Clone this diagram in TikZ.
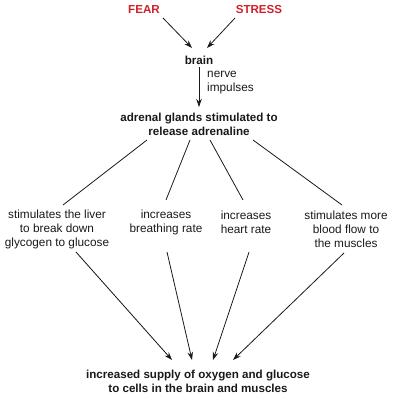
\documentclass[tikz,border=0pt]{standalone}
\usepackage{fontspec}
\setmainfont{Liberation Sans}
\usetikzlibrary{arrows.meta}
\definecolor{fearred}{RGB}{208,32,44}
\definecolor{ink}{RGB}{25,25,25}
\begin{document}
\begin{tikzpicture}[x=1pt,y=-1pt,
  txt/.style={inner sep=0pt,align=center,text=ink,font=\fontsize{11.8}{14}\selectfont},
  btxt/.style={txt,font=\fontsize{11.6}{14}\selectfont\bfseries},
  redtxt/.style={btxt,text=fearred},
  arr/.style={line width=0.8pt,draw=ink,-{Stealth[length=8pt,width=5.5pt]}},
  ln/.style={line width=0.8pt,draw=ink}]
\useasboundingbox (0,0) rectangle (393,395);
\node[redtxt] (fear) at (144,10) {FEAR};
\node[redtxt] (stress) at (259,10) {STRESS};
\node[btxt] (brain) at (199,60) {brain};
\node[txt,anchor=west,align=left] (nerve) at (207,83) {nerve\\impulses};
\node[btxt] (adr) at (199,124) {adrenal glands stimulated to\\release adrenaline};
\node[txt] (liver) at (57,229) {stimulates the liver\\to break down\\glycogen to glucose};
\node[txt] (breath) at (166,222) {increases\\breathing rate};
\node[txt] (heart) at (246,222) {increases\\heart rate};
\node[txt] (blood) at (346,229) {stimulates more\\blood flow to\\the muscles};
\node[btxt] (out) at (198,381) {increased supply of oxygen and glucose\\to cells in the brain and muscles};
\draw[arr] ([shift={(19,8)}]fear.center) -- ([shift={(-7,-12)}]brain.center);
\draw[arr] ([shift={(-24,8)}]stress.center) -- ([shift={(8,-12)}]brain.center);
\draw[arr] (brain.south) ++(0,3) -- ([shift={(0,-17)}]adr.center);
\draw[ln] ([shift={(-52,16)}]adr.center) -- ([shift={(6,-24)}]liver.center);
\draw[ln] ([shift={(-9,16)}]adr.center) -- ([shift={(0,-22)}]breath.center);
\draw[ln] ([shift={(11,16)}]adr.center) -- ([shift={(-3,-22)}]heart.center);
\draw[ln] ([shift={(54,16)}]adr.center) -- ([shift={(-4,-24)}]blood.center);
\draw[arr] ([shift={(19,23)}]liver.center) -- ([shift={(-26,-21)}]out.center);
\draw[arr] ([shift={(1,30)}]breath.center) -- ([shift={(-6,-21)}]out.center);
\draw[arr] ([shift={(3,30)}]heart.center) -- ([shift={(15,-21)}]out.center);
\draw[arr] ([shift={(-2,24)}]blood.center) -- ([shift={(35,-21)}]out.center);
\end{tikzpicture}
\end{document}
